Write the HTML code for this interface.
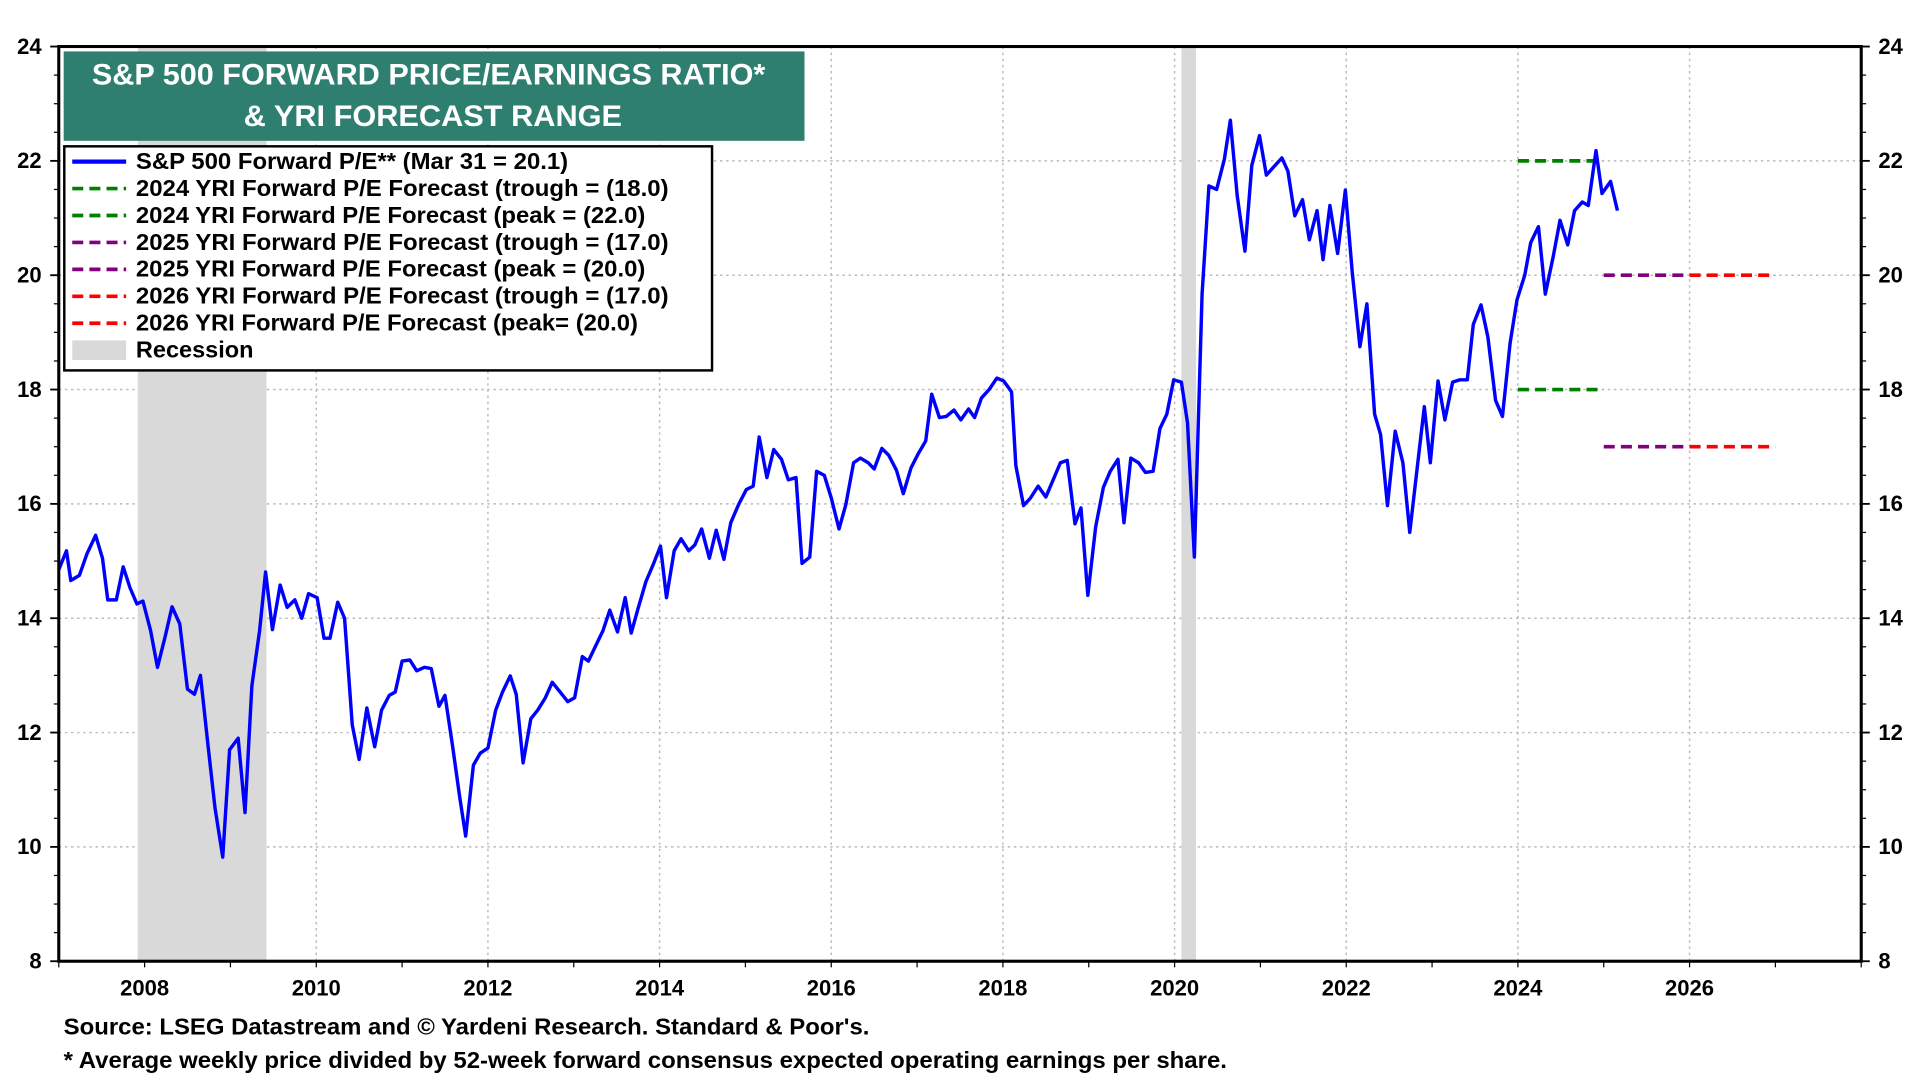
<!DOCTYPE html>
<html><head><meta charset="utf-8"><style>
html,body{margin:0;padding:0;background:#fff;}
svg{display:block;font-family:"Liberation Sans",Arial,sans-serif;}
</style></head><body>
<svg id="chart" width="1920" height="1080" viewBox="0 0 1568 882" preserveAspectRatio="none" xmlns="http://www.w3.org/2000/svg">
<g id="grid"></g>
<g id="recess"></g>
<g id="marks"></g>
<rect x="48" y="38" width="1472" height="747" fill="none" stroke="#000" stroke-width="2.5"/>
<g id="axes"></g>
<rect x="52" y="42" width="605" height="73" fill="#2f7f70"/>
<text x="75" y="69" textLength="550" lengthAdjust="spacingAndGlyphs" fill="#fff" font-size="24" font-weight="bold">S&amp;P 500 FORWARD PRICE/EARNINGS RATIO*</text>
<text x="199" y="103" textLength="309" lengthAdjust="spacingAndGlyphs" fill="#fff" font-size="24" font-weight="bold">&amp; YRI FORECAST RANGE</text>
<g>
<rect x="52.5" y="119.5" width="529" height="183" fill="#fff" stroke="#000" stroke-width="2"/>
<g id="legend-items"></g>
</g>
<text x="52" y="845" textLength="658" lengthAdjust="spacingAndGlyphs" font-size="19" font-weight="bold">Source: LSEG Datastream and © Yardeni Research. Standard &amp; Poor's.</text>
<text x="52" y="872" textLength="950" lengthAdjust="spacingAndGlyphs" font-size="19" font-weight="bold">* Average weekly price divided by 52-week forward consensus expected operating earnings per share.</text>
</svg>
<script>
const dates=[2007.00,2007.09,2007.14,2007.24,2007.33,2007.43,2007.51,2007.57,2007.67,2007.75,2007.83,2007.91,2007.98,2008.07,2008.15,2008.24,2008.32,2008.41,2008.50,2008.58,2008.65,2008.74,2008.82,2008.91,2008.99,2009.09,2009.17,2009.25,2009.34,2009.41,2009.49,2009.58,2009.66,2009.75,2009.83,2009.91,2010.01,2010.09,2010.16,2010.25,2010.33,2010.42,2010.50,2010.59,2010.68,2010.76,2010.85,2010.92,2011.00,2011.09,2011.17,2011.26,2011.34,2011.43,2011.50,2011.59,2011.67,2011.74,2011.83,2011.91,2012.00,2012.09,2012.17,2012.26,2012.33,2012.41,2012.50,2012.58,2012.67,2012.75,2012.84,2012.93,2013.01,2013.10,2013.17,2013.25,2013.34,2013.42,2013.51,2013.60,2013.67,2013.75,2013.84,2013.92,2014.01,2014.08,2014.17,2014.25,2014.34,2014.41,2014.49,2014.58,2014.66,2014.75,2014.83,2014.92,2015.01,2015.09,2015.16,2015.25,2015.33,2015.42,2015.50,2015.59,2015.66,2015.75,2015.83,2015.92,2016.00,2016.09,2016.17,2016.26,2016.34,2016.43,2016.50,2016.59,2016.67,2016.76,2016.84,2016.93,2017.01,2017.10,2017.17,2017.26,2017.34,2017.43,2017.51,2017.60,2017.67,2017.75,2017.84,2017.93,2018.01,2018.10,2018.15,2018.24,2018.32,2018.41,2018.50,2018.58,2018.67,2018.75,2018.84,2018.91,2018.99,2019.08,2019.17,2019.25,2019.34,2019.41,2019.49,2019.58,2019.66,2019.75,2019.83,2019.91,2019.99,2020.08,2020.15,2020.23,2020.32,2020.40,2020.49,2020.58,2020.65,2020.73,2020.82,2020.90,2020.99,2021.07,2021.16,2021.25,2021.32,2021.40,2021.49,2021.57,2021.66,2021.73,2021.81,2021.90,2021.99,2022.07,2022.16,2022.24,2022.33,2022.40,2022.48,2022.57,2022.66,2022.74,2022.83,2022.91,2022.98,2023.07,2023.15,2023.24,2023.32,2023.41,2023.48,2023.57,2023.65,2023.74,2023.82,2023.91,2023.99,2024.08,2024.15,2024.24,2024.32,2024.41,2024.49,2024.58,2024.66,2024.75,2024.82,2024.91,2024.98,2025.08,2025.16];
const peValues=[14.85,15.18,14.66,14.75,15.13,15.45,15.05,14.32,14.32,14.9,14.53,14.25,14.3,13.78,13.14,13.68,14.2,13.9,12.76,12.67,13.0,11.75,10.68,9.82,11.7,11.9,10.6,12.82,13.78,14.81,13.8,14.58,14.19,14.32,14.0,14.43,14.36,13.65,13.65,14.28,14.0,12.13,11.53,12.43,11.75,12.39,12.65,12.71,13.25,13.27,13.08,13.14,13.12,12.46,12.65,11.75,10.89,10.19,11.43,11.64,11.73,12.39,12.71,12.99,12.67,11.47,12.24,12.39,12.61,12.88,12.71,12.54,12.61,13.33,13.25,13.5,13.78,14.14,13.76,14.36,13.74,14.17,14.64,14.92,15.26,14.36,15.18,15.39,15.18,15.28,15.56,15.05,15.54,15.03,15.67,15.99,16.25,16.31,17.17,16.46,16.95,16.78,16.42,16.46,14.96,15.07,16.57,16.5,16.1,15.56,15.99,16.72,16.8,16.72,16.61,16.97,16.85,16.59,16.18,16.63,16.87,17.1,17.92,17.51,17.53,17.64,17.47,17.66,17.51,17.85,18.0,18.2,18.15,17.96,16.67,15.97,16.1,16.31,16.12,16.4,16.72,16.76,15.65,15.93,14.4,15.6,16.29,16.57,16.78,15.67,16.8,16.72,16.55,16.57,17.32,17.57,18.17,18.13,17.42,15.07,19.67,21.56,21.5,22.03,22.71,21.39,20.42,21.92,22.44,21.75,21.9,22.05,21.82,21.04,21.32,20.62,21.13,20.27,21.22,20.38,21.49,20.06,18.75,19.5,17.57,17.21,15.97,17.27,16.72,15.5,16.67,17.7,16.72,18.15,17.47,18.13,18.17,18.17,19.14,19.48,18.92,17.81,17.53,18.82,19.57,20.0,20.57,20.85,19.67,20.32,20.96,20.53,21.13,21.28,21.22,22.18,21.43,21.64,21.13];
const forecastStart=[2024,2024,2025,2025,2026,2026];
const forecastEnd=[2025,2025,2026,2026,2027,2027];
const forecastValues=[22,18,20,17,20,17];
const forecastColors=['#008000','#008000','#800080','#800080','#ff0000','#ff0000'];
const recStart=[2007.92,2020.08];
const recEnd=[2009.42,2020.25];
const yTicks=[8,10,12,14,16,18,20,22,24];
const xTicks=[2008,2010,2012,2014,2016,2018,2020,2022,2024,2026];
const legendLabels=['S&P 500 Forward P/E** (Mar 31 = 20.1)','2024 YRI Forward P/E Forecast (trough = (18.0)','2024 YRI Forward P/E Forecast (peak = (22.0)','2025 YRI Forward P/E Forecast (trough = (17.0)','2025 YRI Forward P/E Forecast (peak = (20.0)','2026 YRI Forward P/E Forecast (trough = (17.0)','2026 YRI Forward P/E Forecast (peak= (20.0)','Recession'];
const legendWidths=[353,435,416,435,416,435,410,96];
const legendColors=['#0000ff','#008000','#008000','#800080','#800080','#ff0000','#ff0000','#d9d9d9'];

const L=48,R=1520,T=38,B=785,X0=2007,X1=2028,Y0=8,Y1=24;
const xs=v=>L+(v-X0)/(X1-X0)*(R-L);
const ys=v=>B-(v-Y0)/(Y1-Y0)*(B-T);
const NS='http://www.w3.org/2000/svg';
function mk(tag,parent,attrs){const e=document.createElementNS(NS,tag);for(const k in attrs)e.setAttribute(k,attrs[k]);parent.appendChild(e);return e;}
const grid=document.getElementById('grid'),axes=document.getElementById('axes'),marks=document.getElementById('marks'),rec=document.getElementById('recess');
yTicks.forEach(t=>{
  if(t>Y0&&t<Y1){const g=mk('line',grid,{x1:L,x2:R,y1:ys(t),y2:ys(t),stroke:'#bbb','stroke-width':1.2,'stroke-dasharray':'2,3'});
  }
  const a=mk('text',axes,{x:34,y:ys(t)+6,'text-anchor':'end','font-size':18,'font-weight':'bold'});a.textContent=t;
  
  const b=mk('text',axes,{x:1534,y:ys(t)+6,'text-anchor':'start','font-size':18,'font-weight':'bold'});b.textContent=t;
  
  mk('line',axes,{x1:L-7,x2:L,y1:ys(t),y2:ys(t),stroke:'#000','stroke-width':1.5});
  mk('line',axes,{x1:R,x2:R+7,y1:ys(t),y2:ys(t),stroke:'#000','stroke-width':1.5});
});
for(let v=Y0;v<Y1;v+=0.5){if(v%2===0)continue;mk('line',axes,{x1:L-4,x2:L,y1:ys(v),y2:ys(v),stroke:'#000'});mk('line',axes,{x1:R,x2:R+4,y1:ys(v),y2:ys(v),stroke:'#000'});}
for(let y=X0;y<=X1;y++){mk('line',axes,{x1:xs(y),x2:xs(y),y1:B,y2:B+5,stroke:'#000'});}
xTicks.forEach(t=>{
  const g=mk('line',grid,{x1:xs(t),x2:xs(t),y1:T,y2:B,stroke:'#bbb','stroke-width':1.2,'stroke-dasharray':'2,3'});
  
  const a=mk('text',axes,{x:xs(t),y:813,'text-anchor':'middle','font-size':18,'font-weight':'bold'});a.textContent=t;
  
});
recStart.forEach((s,i)=>{const r=mk('rect',rec,{x:xs(s),y:T,width:xs(recEnd[i])-xs(s),height:B-T,fill:'#d9d9d9'});
  });
forecastValues.forEach((v,i)=>{const l=mk('line',marks,{x1:xs(forecastStart[i]),x2:xs(forecastEnd[i]),y1:ys(v),y2:ys(v),stroke:forecastColors[i],'stroke-width':3,'stroke-dasharray':'9,5'});
  });
const p=mk('polyline',marks,{points:dates.map((d,i)=>xs(d).toFixed(1)+','+ys(peValues[i]).toFixed(1)).join(' '),fill:'none',stroke:'#0000ff','stroke-width':2.8,'stroke-linejoin':'round'});

const li=document.getElementById('legend-items');
legendLabels.forEach((lab,i)=>{const y=132+i*22;
  if(i===0)mk('line',li,{x1:59,x2:103,y1:y,y2:y,stroke:legendColors[i],'stroke-width':3.5});
  else if(i===7)mk('rect',li,{x:59,y:y-8,width:44,height:16,fill:legendColors[i]});
  else mk('line',li,{x1:59,x2:103,y1:y,y2:y,stroke:legendColors[i],'stroke-width':3,'stroke-dasharray':'9,5'});
  const t=mk('text',li,{x:111,y:y+6,'font-size':19,'font-weight':'bold',textLength:legendWidths[i],lengthAdjust:'spacingAndGlyphs'});t.textContent=lab;
  
});
</script>
</body></html>
